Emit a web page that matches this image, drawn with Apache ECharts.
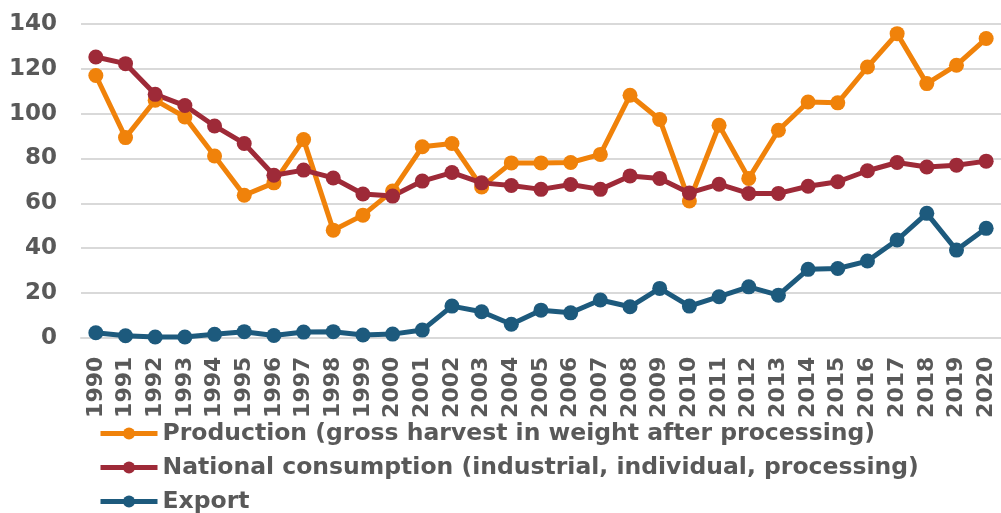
<!DOCTYPE html>
<html>
<head>
<meta charset="utf-8">
<script src="https://cdn.jsdelivr.net/npm/echarts@6/dist/echarts.min.js"></script>
<style>
html,body{margin:0;padding:0;background:#fff;}
#chart{width:1001px;height:513px;}
</style>
</head>
<body>
<div id="chart"></div>
<script>
var years = ['1990','1991','1992','1993','1994','1995','1996','1997','1998','1999','2000','2001','2002','2003','2004','2005','2006','2007','2008','2009','2010','2011','2012','2013','2014','2015','2016','2017','2018','2019','2020'];
var production = [117.0, 89.3, 106.0, 98.5, 81.1, 63.6, 69.1, 88.4, 48.0, 54.7, 65.5, 85.2, 86.7, 67.3, 78.0, 78.0, 78.2, 81.8, 108.2, 97.4, 61.0, 94.8, 71.1, 92.6, 105.2, 104.8, 120.8, 135.7, 113.4, 121.6, 133.5];
var consumption = [125.3, 122.3, 108.6, 103.6, 94.5, 86.7, 72.5, 74.8, 71.3, 64.1, 63.2, 69.9, 73.7, 69.1, 67.9, 66.2, 68.4, 66.2, 72.2, 71.1, 64.6, 68.5, 64.4, 64.4, 67.6, 69.6, 74.5, 78.2, 76.2, 77.0, 78.8];
var exportVals = [2.2, 0.9, 0.3, 0.3, 1.5, 2.7, 1.0, 2.5, 2.7, 1.2, 1.6, 3.4, 14.1, 11.6, 6.0, 12.3, 11.1, 16.8, 13.8, 22.0, 14.1, 18.3, 22.7, 19.0, 30.5, 30.9, 34.2, 43.6, 55.5, 39.1, 48.8];
var seriesNames = ['Production (gross harvest in weight after processing)', 'National consumption (industrial, individual, processing)', 'Export'];
var colors = ['#F0820A', '#9E2A38', '#1D5A7D'];

var font = '"DejaVu Sans", Verdana, sans-serif';
var chart = echarts.init(document.getElementById('chart'), null, {renderer: 'canvas'});
function mk(name, data, color) {
  return {
    name: name, type: 'line', data: data,
    symbol: 'circle', symbolSize: 15,
    lineStyle: {width: 5, color: color},
    itemStyle: {color: color},
    emphasis: {disabled: true},
    animation: false
  };
}
chart.setOption({
  animation: false,
  color: colors,
  grid: {left: 81, width: 923, top: 24, bottom: 175.3, containLabel: false},
  xAxis: {
    type: 'category', data: years, boundaryGap: true,
    axisLine: {show: true, lineStyle: {color: '#D9D9D9', width: 2}},
    axisTick: {show: false},
    axisLabel: {rotate: 90, interval: 0, margin: 19, color: '#595959', fontFamily: font, fontWeight: 'bold', fontSize: 22}
  },
  yAxis: {
    type: 'value', min: 0, max: 140, interval: 20,
    axisLine: {show: false}, axisTick: {show: false},
    splitLine: {lineStyle: {color: '#D9D9D9', width: 2}},
    axisLabel: {margin: 24, color: '#595959', fontFamily: font, fontWeight: 'bold', fontSize: 23}
  },
  legend: {
    type: 'plain', orient: 'vertical', left: 98, top: 421.5, height: 120, padding: 0,
    itemWidth: 57, itemHeight: 15, itemGap: 10,
    lineStyle: {width: 5},
    itemStyle: {borderWidth: 0},
    textStyle: {color: '#595959', fontFamily: font, fontWeight: 'bold', fontSize: 23.5},
    data: seriesNames
  },
  series: [
    mk(seriesNames[0], production, colors[0]),
    mk(seriesNames[1], consumption, colors[1]),
    mk(seriesNames[2], exportVals, colors[2])
  ]
});
</script>
</body>
</html>
